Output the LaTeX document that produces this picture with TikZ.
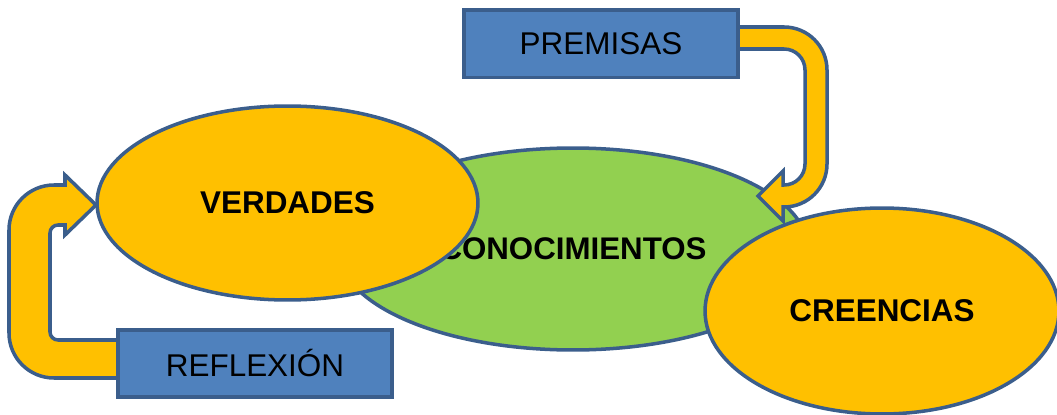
\documentclass[tikz,border=0pt]{standalone}
\usepackage{fontspec}
\setmainfont{Liberation Sans}
\usetikzlibrary{shapes.geometric}
\definecolor{cyel}{HTML}{FFC000}
\definecolor{cgrn}{HTML}{92D050}
\definecolor{cblu}{HTML}{4F81BD}
\definecolor{cout}{HTML}{3B5E8C}
\tikzset{
  oval/.style={ellipse, draw=cout, line width=2pt, inner sep=0pt, font=\fontsize{17.9}{20}\selectfont\bfseries},
  labelbox/.style={rectangle, draw=cout, fill=cblu, line width=2pt, inner sep=0pt,
     minimum width=5.48cm, minimum height=1.35cm, font=\fontsize{17.9}{20}\selectfont},
  bentarrow/.style={draw=cout, fill=cyel, line width=2pt, line join=miter}
}
\begin{document}
\begin{tikzpicture}[x=0.02cm, y=-0.02cm]
\useasboundingbox (0,0) rectangle (1057,415);
% ellipses
\node[oval, fill=cgrn, minimum width=9.4cm, minimum height=4.04cm,
      font=\fontsize{17.8}{20}\selectfont\bfseries] (conoc) at (573,249) {CONOCIMIENTOS};
\node[oval, fill=cyel, minimum width=7.62cm, minimum height=3.88cm] (verd) at (287.5,203) {VERDADES};
\node[oval, fill=cyel, minimum width=7.08cm, minimum height=4.12cm] (cree) at (882,311) {CREENCIAS};
% top bent arrow (PREMISAS -> CONOCIMIENTOS)
\coordinate (tiptop) at (758,196);
\draw[bentarrow] (730,27) -- (784,27) arc[start angle=-90, end angle=0, radius=43]
  -- (827,164) arc[start angle=0, end angle=90, radius=43]
  -- (783,207) -- (783,221) -- (tiptop) -- (783,171) -- (783,185) -- (784,185)
  arc[start angle=90, end angle=0, radius=21]
  -- (805,70) arc[start angle=0, end angle=-90, radius=21]
  -- (730,49) -- cycle;
% left bent arrow (REFLEXION -> VERDADES)
\coordinate (tipleft) at (96,205);
\draw[bentarrow] (125,378) -- (54,378) arc[start angle=90, end angle=180, radius=45]
  -- (9,230) arc[start angle=180, end angle=270, radius=45]
  -- (65,185) -- (65,175) -- (tipleft) -- (65,235) -- (65,225) -- (58,225)
  arc[start angle=270, end angle=180, radius=8]
  -- (50,332) arc[start angle=180, end angle=90, radius=8]
  -- (125,340) -- cycle;
% boxes
\node[labelbox] (prem) at (601,44) {PREMISAS};
\node[labelbox] (refl) at (255,363.5) {REFLEXIÓN};
\end{tikzpicture}
\end{document}
